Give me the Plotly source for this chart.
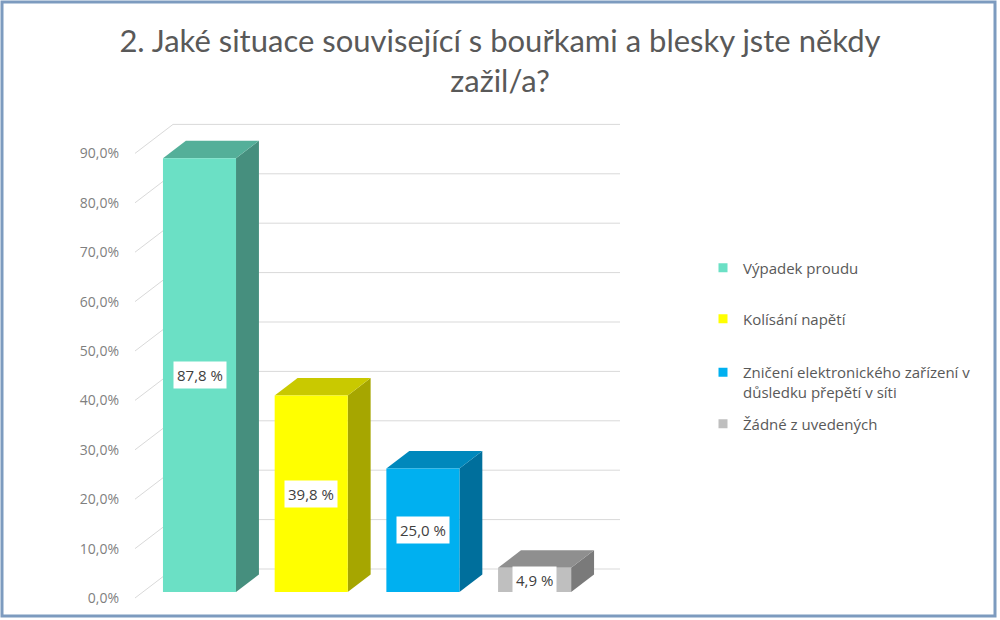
import plotly.graph_objects as go

# ---------------- data ----------------
categories = ["Výpadek proudu", "Kolísání napětí",
              "Zničení elektronického zařízení v<br>důsledku přepětí v síti",
              "Žádné z uvedených"]
values = [87.8, 39.8, 25.0, 4.9]
tick_values = [0, 10, 20, 30, 40, 50, 60, 70, 80, 90]
tick_labels = ["0,0%", "10,0%", "20,0%", "30,0%", "40,0%", "50,0%",
               "60,0%", "70,0%", "80,0%", "90,0%"]

front_colors = ["#6BE0C5", "#FFFF00", "#00B0F0", "#BFBFBF"]
top_colors = ["#54AF99", "#C9C900", "#0088BC", "#8F8F8F"]
side_colors = ["#468F7E", "#A6A600", "#006F9C", "#7A7A7A"]

# ---------------- geometry (pixels of the 1000x620 canvas) ----------------
W, H = 1000, 620
L, R, T, B = 135, 380, 122, 20
PX_PER_CAT = 111.7
PX_PER_PCT = 4.94
FLOOR_DX, FLOOR_DY = 38, 29          # depth of floor in px
KX = FLOOR_DX / PX_PER_CAT           # x units per unit depth
KY = FLOOR_DY / PX_PER_PCT           # % units per unit depth
Z0, Z1 = 0.207, 0.81                 # bar front / back depth
BW = 0.654                           # bar width (category units)
X0 = -0.507                          # left edge of axis
X1 = X0 + (W - L - R) / PX_PER_CAT
Y0 = -2 / PX_PER_PCT
Y1 = Y0 + (H - T - B) / PX_PER_PCT

def px_x(p):
    return (p - L) / (W - L - R)

def px_y(p):
    return (H - B - p) / (H - T - B)

fig = go.Figure()

# gridlines (front-left wall + back wall)
for v in tick_values:
    fig.add_trace(go.Scatter(
        x=[X0, X0 + KX, X1], y=[v, v + KY, v + KY], mode="lines",
        line=dict(color="#D9D9D9", width=1), hoverinfo="skip", showlegend=False))

# bars as 3D boxes
for i, v in enumerate(values):
    xl, xr = i - BW / 2, i + BW / 2
    # side face
    fig.add_trace(go.Scatter(
        x=[xr + Z0 * KX, xr + Z1 * KX, xr + Z1 * KX, xr + Z0 * KX, xr + Z0 * KX],
        y=[Z0 * KY, Z1 * KY, v + Z1 * KY, v + Z0 * KY, Z0 * KY],
        fill="toself", fillcolor=side_colors[i], mode="lines",
        line=dict(width=0, color=side_colors[i]), hoverinfo="skip", showlegend=False))
    # top face
    fig.add_trace(go.Scatter(
        x=[xl + Z0 * KX, xr + Z0 * KX, xr + Z1 * KX, xl + Z1 * KX, xl + Z0 * KX],
        y=[v + Z0 * KY, v + Z0 * KY, v + Z1 * KY, v + Z1 * KY, v + Z0 * KY],
        fill="toself", fillcolor=top_colors[i], mode="lines",
        line=dict(width=0, color=top_colors[i]), hoverinfo="skip", showlegend=False))
    # front face
    fig.add_trace(go.Scatter(
        x=[xl + Z0 * KX, xr + Z0 * KX, xr + Z0 * KX, xl + Z0 * KX, xl + Z0 * KX],
        y=[Z0 * KY, Z0 * KY, v + Z0 * KY, v + Z0 * KY, Z0 * KY],
        fill="toself", fillcolor=front_colors[i], mode="lines",
        line=dict(width=0, color=front_colors[i]), hoverinfo="skip", showlegend=False))
    # data label
    fig.add_annotation(
        x=i + Z0 * KX, y=Z0 * KY + v / 2,
        text=f"{v:.1f}".replace(".", ",") + " %", showarrow=False,
        bgcolor="white", borderpad=3,
        font=dict(family="Open Sans", size=15, color="#404040"))

# legend entries (one legend each, positioned individually)
legend_pos_y = [268, 319, 382, 424]
for i, name in enumerate(categories):
    lname = "legend" if i == 0 else f"legend{i + 1}"
    fig.add_trace(go.Scatter(
        x=[None], y=[None], mode="markers", name=name,
        marker=dict(symbol="square", size=9, color=front_colors[i]),
        legend=lname, showlegend=True))
    fig.update_layout({lname: dict(
        x=px_x(703), xanchor="left", y=px_y(legend_pos_y[i]), yanchor="middle",
        bgcolor="rgba(0,0,0,0)", valign="top", itemclick=False,
        font=dict(family="Open Sans", size=15, color="#595959"))})

# outer border
fig.add_shape(type="rect", xref="paper", yref="paper",
              x0=px_x(2), x1=px_x(995), y0=px_y(616), y1=px_y(2),
              line=dict(color="#7D9BBF", width=3), layer="above")

fig.update_layout(
    width=W, height=H,
    margin=dict(l=L, r=R, t=T, b=B),
    paper_bgcolor="white", plot_bgcolor="white",
    title=dict(text="2. Jaké situace související s bouřkami a blesky jste někdy<br>zažil/a?",
               x=0.5, xref="container", xanchor="center",
               y=1 - 52 / H, yref="container", yanchor="middle",
               font=dict(family="Lato", size=31, color="#595959")),
    xaxis=dict(range=[X0, X1], visible=False, fixedrange=True),
    yaxis=dict(range=[Y0, Y1], tickvals=tick_values, ticktext=tick_labels,
               showgrid=False, zeroline=False, showline=False, ticks="",
               ticklabelstandoff=15,
               tickfont=dict(family="Open Sans", size=14, color="#7F7F7F"),
               fixedrange=True),
)

fig.write_html("out.html")
